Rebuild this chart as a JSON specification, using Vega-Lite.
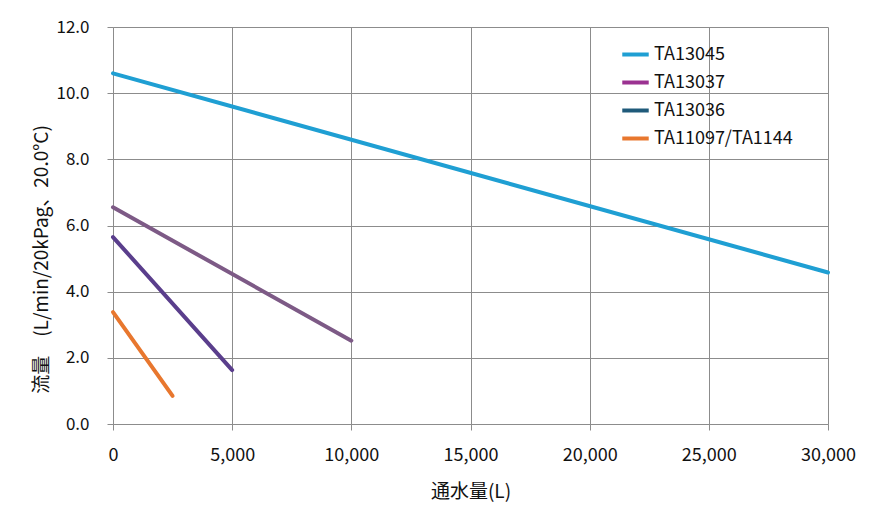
{
  "$schema": "https://vega.github.io/schema/vega-lite/v6.json",
  "width": 715,
  "height": 397,
  "autosize": "none",
  "padding": {"left": 113, "top": 27, "right": 49, "bottom": 90},
  "background": "white",
  "config": {
    "font": "Noto Sans CJK JP",
    "view": {"stroke": null},
    "axis": {
      "labelFont": "Noto Sans CJK JP",
      "titleFont": "Noto Sans CJK JP",
      "labelFontSize": 17,
      "titleFontSize": 19,
      "labelColor": "#111111",
      "titleColor": "#111111",
      "titleFontWeight": "normal",
      "gridColor": "#8c8c8c",
      "gridOpacity": 1,
      "domainColor": "#8c8c8c",
      "tickColor": "#8c8c8c",
      "tickSize": 6,
      "labelFlush": false
    }
  },
  "data": {
    "values": [
      {"series": "TA13045", "volume": 0, "flow": 10.6},
      {"series": "TA13045", "volume": 30000, "flow": 4.58},
      {"series": "TA13037", "volume": 0, "flow": 6.55},
      {"series": "TA13037", "volume": 10000, "flow": 2.52},
      {"series": "TA13036", "volume": 0, "flow": 5.65},
      {"series": "TA13036", "volume": 5000, "flow": 1.63},
      {"series": "TA11097/TA1144", "volume": 0, "flow": 3.38},
      {"series": "TA11097/TA1144", "volume": 2500, "flow": 0.85}
    ]
  },
  "encoding": {
    "x": {
      "field": "volume", "type": "quantitative",
      "scale": {"domain": [0, 30000], "nice": false},
      "axis": {
        "values": [0, 5000, 10000, 15000, 20000, 25000, 30000],
        "format": ",d",
        "title": "通水量(L)",
        "labelFontSize": 18,
        "labelPadding": 16,
        "titlePadding": 18,
        "tickSize": 6
      }
    },
    "y": {
      "field": "flow", "type": "quantitative",
      "scale": {"domain": [0, 12], "nice": false},
      "axis": {
        "values": [0, 2, 4, 6, 8, 10, 12],
        "format": ".1f",
        "title": "流量　(L/min/20kPag、20.0°C)",
        "labelPadding": 18,
        "titleBaseline": "alphabetic",
        "titleX": -66,
        "titleY": 232,
        "tickSize": 6
      }
    }
  },
  "layer": [
    {
      "mark": {"type": "line", "strokeWidth": 4, "strokeCap": "round"},
      "encoding": {
        "color": {
          "field": "series", "type": "nominal",
          "scale": {
            "domain": ["TA13045", "TA13037", "TA13036", "TA11097/TA1144"],
            "range": ["#1f9fd3", "#7d5a86", "#5a3e8c", "#e8772e"]
          },
          "legend": null
        }
      }
    },
    {
      "mark": {"type": "line", "strokeWidth": 4, "opacity": 0},
      "encoding": {
        "color": {
          "field": "series", "type": "nominal",
          "scale": {
            "domain": ["TA13045", "TA13037", "TA13036", "TA11097/TA1144"],
            "range": ["#1f9fd3", "#9b3291", "#1f5a7a", "#e8772e"]
          },
          "legend": {
            "title": null,
            "orient": "none",
            "legendX": 507,
            "legendY": 12,
            "symbolType": "stroke",
            "symbolStrokeWidth": 4,
            "symbolSize": 700,
            "symbolOpacity": 1,
            "labelFontSize": 18,
            "labelFont": "Noto Sans CJK JP",
            "labelColor": "#111111",
            "rowPadding": 3,
            "labelOffset": 3
          }
        }
      }
    }
  ],
  "resolve": {"scale": {"color": "independent"}}
}
